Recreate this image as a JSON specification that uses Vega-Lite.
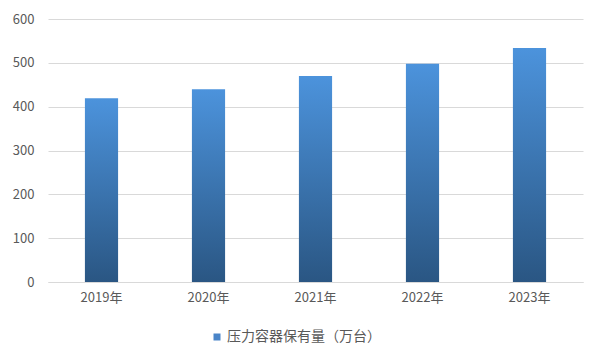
{
  "$schema": "https://vega.github.io/schema/vega-lite/v6.json",
  "autosize": "none",
  "width": 535,
  "height": 263,
  "padding": {"left": 48, "top": 19, "right": 18, "bottom": 79},
  "background": "#ffffff",
  "config": {
    "view": {"stroke": null},
    "font": "Noto Sans CJK SC",
    "axis": {"labelFont": "Noto Sans CJK SC", "labelFontSize": 13, "labelColor": "#595959", "ticks": false, "title": null},
    "legend": {"labelFont": "Noto Sans CJK SC", "labelFontSize": 14, "labelColor": "#595959"}
  },
  "data": {"values": [
    {"year": "2019年", "value": 419},
    {"year": "2020年", "value": 440},
    {"year": "2021年", "value": 470},
    {"year": "2022年", "value": 498},
    {"year": "2023年", "value": 534}
  ]},
  "encoding": {
    "x": {"field": "year", "type": "nominal", "sort": null,
      "scale": {"paddingInner": 0.69, "paddingOuter": 0.345},
      "axis": {"labelAngle": 0, "labelPadding": 9, "domainColor": "#d9d9d9", "grid": false}},
    "y": {"field": "value", "type": "quantitative",
      "scale": {"domain": [0, 600]},
      "axis": {"values": [0, 100, 200, 300, 400, 500, 600], "labelPadding": 14, "domain": false, "gridColor": "#d9d9d9"}}
  },
  "layer": [
    {
      "mark": {"type": "bar", "fill": {"gradient": "linear", "x1": 0, "y1": 0, "x2": 0, "y2": 1,
        "stops": [{"offset": 0, "color": "#4c93dc"}, {"offset": 1, "color": "#2a5683"}]}}
    },
    {
      "mark": {"type": "bar", "opacity": 0},
      "encoding": {
        "color": {"datum": "压力容器保有量（万台）", "type": "nominal",
          "scale": {"range": ["#4a85c8"]},
          "legend": {"title": null, "orient": "none", "legendX": 162, "legendY": 311, "direction": "horizontal", "symbolType": "square", "symbolOpacity": 1, "symbolSize": 49, "symbolStrokeWidth": 0, "labelOffset": 3}
        }
      }
    }
  ]
}
